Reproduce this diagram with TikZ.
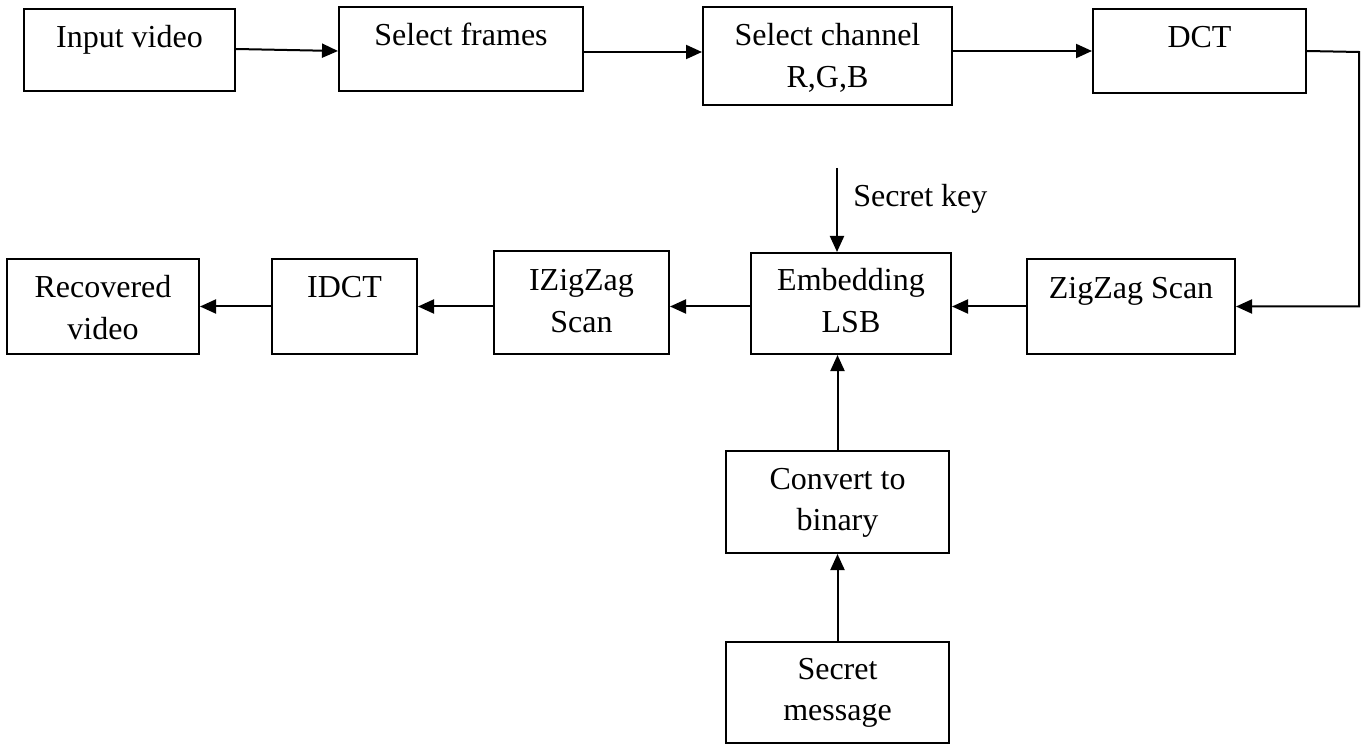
\documentclass[tikz,border=0pt]{standalone}
\usepackage{fontspec}
\setmainfont{Liberation Serif}
\usetikzlibrary{arrows.meta}
\newlength\pxu
\setlength\pxu{0.75pt}
% two centred lines whose baseline is that of the first line
\newcommand\twol[2]{\begin{tabular}[t]{@{}c@{}}#1\\#2\end{tabular}}
\tikzset{
  box/.style={draw, line width=1.5pt, rectangle, inner sep=0pt, fill=white},
  lbl/.style={anchor=base, inner sep=0pt, font=\fontsize{24}{31}\selectfont},
  arr/.style={line width=1.5pt, -{Triangle[length=12pt,width=10.5pt]}}
}
\begin{document}
\begin{tikzpicture}[x=0.75pt, y=-0.75pt]
\useasboundingbox (0,0) rectangle (1364,745);

% top row
\node[box, minimum width=211\pxu, minimum height=82\pxu] (in)   at (129.5,50)   {};
\node[box, minimum width=244\pxu, minimum height=84\pxu] (sf)   at (461,49)     {};
\node[box, minimum width=249\pxu, minimum height=98\pxu] (sc)   at (827.5,56)   {};
\node[box, minimum width=213\pxu, minimum height=84\pxu] (dct)  at (1199.5,51)  {};

% middle row
\node[box, minimum width=208\pxu, minimum height=95\pxu]  (zz)   at (1131,306.5)  {};
\node[box, minimum width=200\pxu, minimum height=101\pxu] (emb)  at (851,303.5)   {};
\node[box, minimum width=175\pxu, minimum height=103\pxu] (izz)  at (581.5,302.5) {};
\node[box, minimum width=145\pxu, minimum height=95\pxu]  (idct) at (344.5,306.5) {};
\node[box, minimum width=192\pxu, minimum height=95\pxu]  (rec)  at (103,306.5)   {};

% message branch
\node[box, minimum width=223\pxu, minimum height=102\pxu] (conv) at (837.5,502)   {};
\node[box, minimum width=223\pxu, minimum height=101\pxu] (msg)  at (837.5,692.5) {};

% box texts, first baseline 40px below the top edge
\node[lbl] (in-t)   at ([yshift=-30pt]in.north)   {Input video};
\node[lbl] (sf-t)   at ([yshift=-30pt]sf.north)   {Select frames};
\node[lbl] (sc-t)   at ([yshift=-30pt]sc.north)   {\twol{Select channel}{R,G,B}};
\node[lbl] (dct-t)  at ([yshift=-30pt]dct.north)  {DCT};
\node[lbl] (zz-t)   at ([yshift=-30.75pt]zz.north)   {ZigZag Scan};
\node[lbl] (emb-t)  at ([yshift=-29.25pt]emb.north)  {\twol{Embedding}{LSB}};
\node[lbl] (izz-t)  at ([yshift=-30.75pt]izz.north)  {\twol{IZigZag}{Scan}};
\node[lbl] (idct-t) at ([yshift=-30pt]idct.north) {IDCT};
\node[lbl] (rec-t)  at ([yshift=-30pt]rec.north)  {\twol{Recovered}{video}};
\node[lbl] (conv-t) at ([yshift=-29.25pt]conv.north) {\twol{Convert to}{binary}};
\node[lbl] (msg-t)  at ([yshift=-28.5pt]msg.north)  {\twol{Secret}{message}};

% top row flow
\draw[arr] ([yshift=0.75pt]in.east) -- ([yshift=-1.5pt]sf.west);
\draw[arr] ([yshift=-2.25pt]sf.east) -- ([yshift=-2.25pt]sf.east -| sc.west);
\draw[arr] (sc.east |- dct.west) -- (dct.west);

% DCT down to the zigzag scan
\coordinate (turn) at (1359,52);
\draw[arr] (dct.east) -- (turn) |- (zz.east);

% middle row flow, right to left
\draw[arr] (zz.west) -- (zz.west -| emb.east);
\draw[arr] (emb.west |- zz.west) -- (izz.east |- zz.west);
\draw[arr] (izz.west |- idct.east) -- (idct.east);
\draw[arr] (idct.west) -- (rec.east);

% secret key input
\coordinate (key) at (837,168);
\draw[arr] (key) -- (key |- emb.north);
\node[lbl, anchor=base west] (key-t) at (853,207) {Secret key};

% message branch flow
\draw[arr] (conv.north) -- (conv.north |- emb.south);
\draw[arr] (msg.north) -- (conv.south);
\end{tikzpicture}
\end{document}
